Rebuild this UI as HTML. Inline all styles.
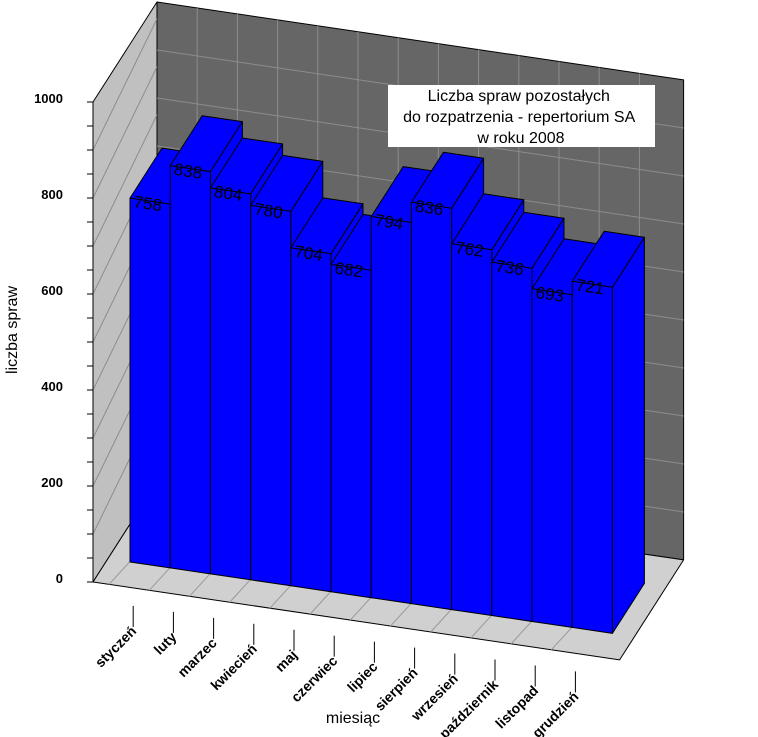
<!DOCTYPE html>
<html><head><meta charset="utf-8"><style>
html,body{margin:0;padding:0;background:#fff;}
svg{display:block;font-family:"Liberation Sans",Arial,sans-serif;}
</style></head><body>
<svg id="chart" width="758" height="737" viewBox="0 0 758 737" xmlns="http://www.w3.org/2000/svg">
<g id="walls"></g>
<g id="bars"></g>
<g id="axes"></g>
<rect x="388" y="85" width="267" height="62" fill="#fff"/>
<text font-size="16" text-anchor="middle" fill="#000">
<tspan x="521" y="101">Liczba spraw pozostałych</tspan>
<tspan x="521" y="122">do rozpatrzenia - repertorium SA</tspan>
<tspan x="521" y="143">w roku 2008</tspan></text>
<text font-size="16" text-anchor="middle" transform="translate(17,330) rotate(-90)">liczba spraw</text>
<text font-size="16" x="353" y="723" text-anchor="middle">miesiąc</text>
</svg>
<script>
const categories = ["styczeń","luty","marzec","kwiecień","maj","czerwiec","lipiec","sierpień","wrzesień","październik","listopad","grudzień"];
const values = [758,838,804,780,704,682,794,836,762,736,693,721];
const yTickLabels = [0,200,400,600,800,1000];
const yMax = 1000;

const NS="http://www.w3.org/2000/svg";
const OX=93, OY=582, CX=40.2, CY=5.95, VS=480/yMax, DX=64, DY=-100, L=13.1, A=0.55, D0=0.233, D1=0.733;
function P(x,v,d){return [OX+x*CX+d*DX, OY+x*CY-v*VS+d*DY];}
function pts(a){return a.map(p=>p[0].toFixed(1)+","+p[1].toFixed(1)).join(" ");}
function poly(g,points,fill,stroke){const e=document.createElementNS(NS,"polygon");e.setAttribute("points",pts(points));e.setAttribute("fill",fill);e.setAttribute("stroke",stroke);e.setAttribute("stroke-width","1");e.setAttribute("stroke-linejoin","round");g.appendChild(e);return e;}
function line(g,a,b,stroke){const e=document.createElementNS(NS,"line");e.setAttribute("x1",a[0]);e.setAttribute("y1",a[1]);e.setAttribute("x2",b[0]);e.setAttribute("y2",b[1]);e.setAttribute("stroke",stroke);g.appendChild(e);return e;}

const walls=document.getElementById("walls");
let e;
e=poly(walls,[P(0,0,1),P(L,0,1),P(L,yMax,1),P(0,yMax,1)],"#666666","#000");


e=poly(walls,[P(0,0,0),P(0,0,1),P(0,yMax,1),P(0,yMax,0)],"#c0c0c0","#000");


e=poly(walls,[P(0,0,0),P(L,0,0),P(L,0,1),P(0,0,1)],"#d0d0d0","#000");


for(let v=100; v<yMax; v+=100){
  e=line(walls,P(0,v,1),P(L,v,1),"#8c8c8c");
  
  
  e=line(walls,P(0,v,0),P(0,v+100*0.65,1),"#8c8c8c");
  
  
}
for(let i=1;i<=categories.length;i++){
  e=line(walls,P(i,0,1),P(i,yMax,1),"#8c8c8c");
  
  
  e=line(walls,P(i-0.6,0,0),P(i,0,1),"#999");
  
  
}

const bars=document.getElementById("bars");
const ang=Math.atan2(CY,CX)*180/Math.PI;
values.forEach((v,i)=>{
  const g=document.createElementNS(NS,"g");
  
  
  const x0=i+A,x1=i+A+1;
  poly(g,[P(x1,0,D0),P(x1,0,D1),P(x1,v,D1),P(x1,v,D0)],"#0000ff","#000");
  poly(g,[P(x0,v,D0),P(x1,v,D0),P(x1,v,D1),P(x0,v,D1)],"#0000ff","#000");
  poly(g,[P(x0,0,D0),P(x1,0,D0),P(x1,v,D0),P(x0,v,D0)],"#0000ff","#000");
  const p=P(x0,v,D0);
  const t=document.createElementNS(NS,"text");
  
  
  t.setAttribute("font-size","17");
  t.setAttribute("transform",`translate(${p[0]+3},${p[1]+9}) rotate(${ang})`);
  t.textContent=v;
  g.appendChild(t);
  bars.appendChild(g);
});

const axes=document.getElementById("axes");
for(let v=0; v<=yMax; v+=50){
  const p=P(0,v,0);
  e=line(axes,[p[0]-6,p[1]],p,"#000");
  
  
}
e=line(axes,P(0,0,0),P(0,yMax,0),"#000");


yTickLabels.forEach(v=>{
  const p=P(0,v,0);
  const t=document.createElementNS(NS,"text");
  
  
  t.setAttribute("x",p[0]-30);t.setAttribute("y",p[1]+1);
  t.setAttribute("text-anchor","end");t.setAttribute("font-size","13");t.setAttribute("font-weight","bold");
  t.textContent=v;axes.appendChild(t);
});
categories.forEach((c,i)=>{
  const p=P(i+1,0,0);
  e=line(axes,[p[0],p[1]+18],[p[0],p[1]+39],"#000");
  
  
  const t=document.createElementNS(NS,"text");
  
  
  t.setAttribute("text-anchor","end");t.setAttribute("font-size","14");t.setAttribute("font-weight","bold");
  t.setAttribute("transform",`translate(${p[0]+4},${p[1]+44}) rotate(-45)`);
  t.textContent=c;axes.appendChild(t);
});
</script>
</body></html>
